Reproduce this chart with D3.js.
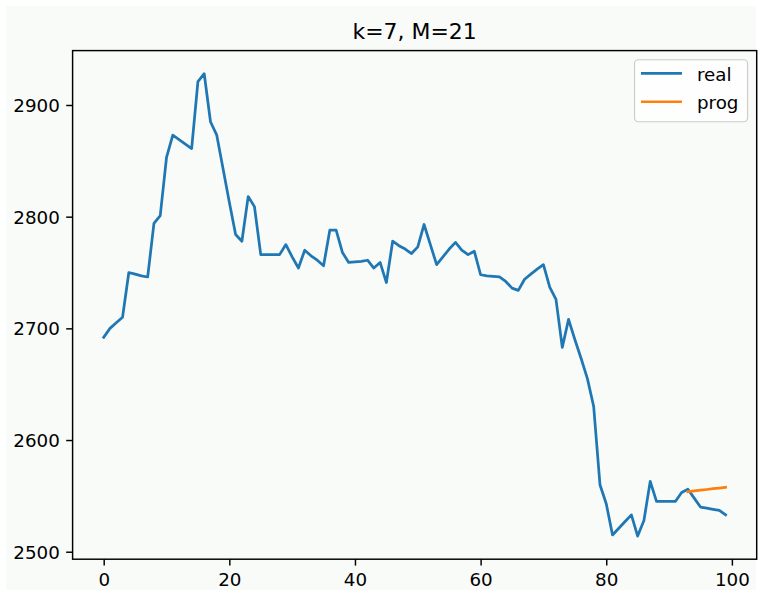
<!DOCTYPE html>
<html>
<head>
<meta charset="utf-8">
<script src="https://cdn.jsdelivr.net/npm/d3@7"></script>
<style>
  html, body { margin: 0; padding: 0; background: #ffffff; }
  svg { display: block; }
  text { font-family: "DejaVu Sans", sans-serif; fill: #000; }
</style>
</head>
<body>
<svg id="chart" width="762" height="594"></svg>
<script>
// Observed series (index 0..99)
const real = [
  2692, 2700, 2705, 2710, 2750, 2748.5, 2747, 2746, 2794, 2801,
  2853, 2873, 2869, 2865, 2861, 2921, 2928, 2885, 2873, 2843,
  2813, 2784, 2778, 2818, 2809, 2766, 2766, 2766, 2766, 2775,
  2764, 2754, 2770, 2765, 2761, 2756, 2788, 2788, 2768, 2759,
  2759.5, 2760, 2761, 2754, 2759, 2741, 2778, 2774, 2771, 2767,
  2773, 2793, 2775, 2757, 2764, 2771, 2777, 2770, 2766, 2769,
  2748, 2747, 2746.5, 2746, 2742, 2736, 2734, 2744, 2748.5, 2753,
  2757, 2737, 2726, 2683, 2708, 2690, 2673, 2655, 2630, 2560,
  2543, 2515, 2521, 2527, 2533, 2514, 2528, 2563, 2545, 2545,
  2545, 2545, 2553, 2556, 2548, 2540, 2539, 2538, 2537, 2533
];
// Forecast, starting at index 93
const progStart = 93;
const prog = [2553.8, 2554.4, 2555.1, 2555.7, 2556.4, 2557.0, 2557.7];

const xTicks = [0, 20, 40, 60, 80, 100];
const yTicks = [2500, 2600, 2700, 2800, 2900];
const seriesNames = ["real", "prog"];
const seriesColors = ["#1f77b4", "#ff7f0e"];
const titleText = "k=7, M=21";

const svg = d3.select("#chart");
const W = 762, H = 594;
const plot = { left: 72.6, right: 756.7, top: 50.6, bottom: 559.2 };
const pt = 1.83; // px per point

// figure face
svg.append("rect").attr("x", 6).attr("y", 6).attr("width", W - 12).attr("height", H - 10)
  .attr("fill", "#f9fbf9");

const realPts = real.map((v, i) => [i, v]);
const progPts = prog.map((v, i) => [progStart + i, v]);
const allPts = realPts.concat(progPts);

// data limits with 5% margins
const xExt = d3.extent(allPts, d => d[0]);
const yExt = d3.extent(allPts, d => d[1]);
const xPad = (xExt[1] - xExt[0]) * 0.05, yPad = (yExt[1] - yExt[0]) * 0.05;

const x = d3.scaleLinear().domain([xExt[0] - xPad, xExt[1] + xPad]).range([plot.left, plot.right]);
const y = d3.scaleLinear().domain([yExt[0] - yPad, yExt[1] + yPad]).range([plot.bottom, plot.top]);

const fontSize = 10 * pt;
const tickLen = 3.5 * pt, tickPad = 3.5 * pt;

// lines
const line = d3.line().x(d => x(d[0])).y(d => y(d[1]));
const clip = svg.append("clipPath").attr("id", "clip").append("rect")
  .attr("x", plot.left).attr("y", plot.top)
  .attr("width", plot.right - plot.left).attr("height", plot.bottom - plot.top);
const g = svg.append("g").attr("clip-path", "url(#clip)");
g.append("path").datum(realPts).attr("d", line)
  .attr("fill", "none").attr("stroke", seriesColors[0]).attr("stroke-width", 1.5 * pt)
  .attr("stroke-linejoin", "round").attr("stroke-linecap", "square");
g.append("path").datum(progPts).attr("d", line)
  .attr("fill", "none").attr("stroke", seriesColors[1]).attr("stroke-width", 1.5 * pt)
  .attr("stroke-linejoin", "round").attr("stroke-linecap", "square");

// axes
const xAxis = d3.axisBottom(x).tickValues(xTicks).tickSize(tickLen).tickPadding(tickPad).tickFormat(d3.format("d"));
const yAxis = d3.axisLeft(y).tickValues(yTicks).tickSize(tickLen).tickPadding(tickPad).tickFormat(d3.format("d"));

const gx = svg.append("g").attr("transform", `translate(0,${plot.bottom})`).call(xAxis);
const gy = svg.append("g").attr("transform", `translate(${plot.left},0)`).call(yAxis);
[gx, gy].forEach(a => {
  a.select(".domain").remove();
  a.selectAll(".tick line").attr("stroke", "#000").attr("stroke-width", 0.8 * pt);
  a.selectAll(".tick text").attr("font-size", fontSize).attr("font-family", "DejaVu Sans").attr("fill", "#000");
});
gx.selectAll(".tick text").attr("dy", null).attr("y", tickLen + tickPad).attr("dominant-baseline", "hanging");
gy.selectAll(".tick text").attr("dy", "0.36em");

// spines
svg.append("rect").attr("x", plot.left).attr("y", plot.top)
  .attr("width", plot.right - plot.left).attr("height", plot.bottom - plot.top)
  .attr("fill", "none").attr("stroke", "#000").attr("stroke-width", 0.8 * pt);

// title
svg.append("text").attr("x", (plot.left + plot.right) / 2).attr("y", plot.top - 6 * pt - 0.5)
  .attr("text-anchor", "middle").attr("font-size", 12 * pt).text(titleText);

// legend
const lgW = 113, lgH = 62;
const lgX = plot.right - 0.5 * fontSize - lgW, lgY = plot.top + 0.5 * fontSize;
const lg = svg.append("g").attr("transform", `translate(${lgX},${lgY})`);
lg.append("rect").attr("width", lgW).attr("height", lgH).attr("rx", 0.2 * fontSize)
  .attr("fill", "#ffffff").attr("fill-opacity", 0.8).attr("stroke", "#cccccc").attr("stroke-width", 0.8 * pt * 0.8);
seriesNames.forEach((name, i) => {
  const cy = 13.6 + i * 28.4;
  lg.append("line").attr("x1", 6.4).attr("x2", 47.4).attr("y1", cy).attr("y2", cy)
    .attr("stroke", seriesColors[i]).attr("stroke-width", 1.5 * pt);
  lg.append("text").attr("x", 62.4).attr("y", cy + 7.2).attr("font-size", fontSize).text(name);
});
</script>
</body>
</html>
